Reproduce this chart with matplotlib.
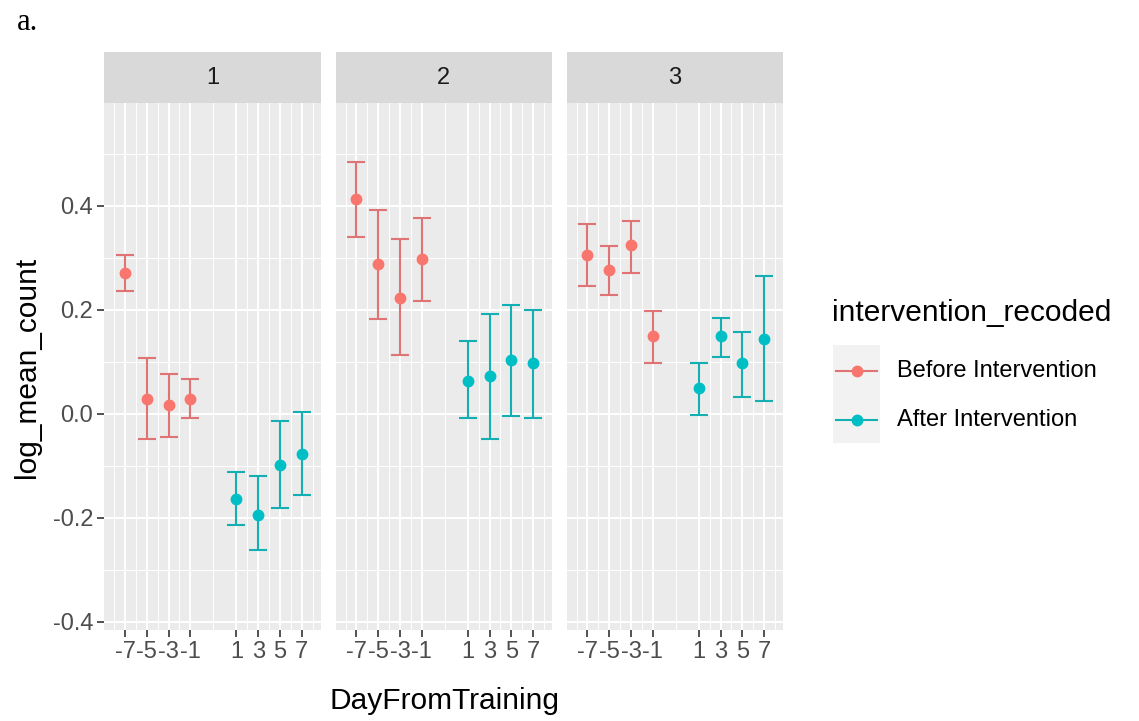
import matplotlib.pyplot as plt
from matplotlib.lines import Line2D
from matplotlib.patches import Rectangle

plt.rcParams['font.family'] = ['Liberation Sans', 'DejaVu Sans']

# data
days_before = [-7, -5, -3, -1]
days_after = [1, 3, 5, 7]
panels = ['1', '2', '3']

before_mean = [[0.271, 0.029, 0.016, 0.029],
               [0.414, 0.288, 0.222, 0.297],
               [0.306, 0.276, 0.324, 0.149]]
before_lo = [[0.236, -0.048, -0.045, -0.009],
             [0.340, 0.183, 0.114, 0.217],
             [0.245, 0.228, 0.271, 0.098]]
before_hi = [[0.305, 0.107, 0.077, 0.067],
             [0.484, 0.392, 0.336, 0.376],
             [0.366, 0.322, 0.370, 0.197]]

after_mean = [[-0.164, -0.194, -0.099, -0.078],
              [0.063, 0.072, 0.103, 0.098],
              [0.050, 0.149, 0.098, 0.144]]
after_lo = [[-0.214, -0.262, -0.181, -0.156],
            [-0.009, -0.048, -0.005, -0.009],
            [-0.002, 0.110, 0.032, 0.024]]
after_hi = [[-0.112, -0.120, -0.013, 0.004],
            [0.141, 0.192, 0.210, 0.200],
            [0.098, 0.184, 0.157, 0.266]]

groups = ['Before Intervention', 'After Intervention']
colors = ['#F8766D', '#00BFC4']
bar_colors = ['#E07474', '#13AFB2']

W, H = 1139, 721
fig = plt.figure(figsize=(W / 100, H / 100), dpi=100)


def fx(px):
    return px / W


def fy(py):
    return 1 - py / H


panel_left = [104.3, 335.7, 566.7]
panel_w = 216.4
top, bottom, strip_top = 103, 630, 52

gap = 2.24  # extra space between the before and after days
x_before = days_before
x_after = [d + gap for d in days_after]
xticks = x_before + x_after
xlabels = [str(d) for d in days_before + days_after]
xminor = [-8, -6, -4, -2, (x_before[-1] + x_after[0]) / 2] + [d + 1 for d in x_after]
yticks = [-0.4, -0.2, 0.0, 0.2, 0.4]
yminor = [-0.3, -0.1, 0.1, 0.3, 0.5]

for i, name in enumerate(panels):
    ax = fig.add_axes([fx(panel_left[i]), fy(bottom), panel_w / W, (bottom - top) / H])
    ax.set_facecolor('#EBEBEB')
    for s in ax.spines.values():
        s.set_visible(False)
    ax.set_xlim(-8.91, 10.99)
    ax.set_ylim(-0.416, 0.598)
    ax.set_xticks(xticks)
    ax.set_xticklabels(xlabels)
    ax.set_xticks(xminor, minor=True)
    ax.set_yticks(yticks)
    ax.set_yticklabels(['-0.4', '-0.2', '0.0', '0.2', '0.4'])
    ax.set_yticks(yminor, minor=True)
    ax.grid(which='major', color='white', lw=1.4)
    ax.grid(which='minor', color='white', lw=0.7)
    ax.set_axisbelow(True)
    ax.tick_params(which='major', length=5, width=1.2, color='#333333',
                   labelcolor='#4D4D4D', labelsize=17, pad=3)
    ax.tick_params(which='minor', length=0)
    if i > 0:
        ax.tick_params(axis='y', left=False, labelleft=False)

    for x, m, lo, hi, c, bc in [(x_before, before_mean[i], before_lo[i], before_hi[i], colors[0], bar_colors[0]),
                                (x_after, after_mean[i], after_lo[i], after_hi[i], colors[1], bar_colors[1])]:
        err = [[a - b for a, b in zip(m, lo)], [b - a for a, b in zip(m, hi)]]
        ax.errorbar(x, m, yerr=err, fmt='none', ecolor=bc, elinewidth=1.5,
                    capsize=6.5, capthick=1.5, zorder=3)
        ax.plot(x, m, 'o', color=c, ms=7.5, zorder=4)

    sax = fig.add_axes([fx(panel_left[i]), fy(top), panel_w / W, (top - strip_top) / H])
    sax.set_facecolor('#D9D9D9')
    sax.set_xticks([])
    sax.set_yticks([])
    for s in sax.spines.values():
        s.set_visible(False)
    sax.text(0.5, 0.5, name, ha='center', va='center', fontsize=17, color='#1A1A1A',
             transform=sax.transAxes)

fig.text(fx(27), fy(367), 'log_mean_count', rotation=90, ha='center', va='center', fontsize=21.5)
fig.text(fx(444), fy(701), 'DayFromTraining', ha='center', va='center', fontsize=21.5)
fig.text(fx(17), fy(22), 'a.', ha='left', va='center', fontsize=22, family='Liberation Serif')

# legend
fig.text(fx(832), fy(313), 'intervention_recoded', ha='left', va='center', fontsize=21.5)
key_y = [371, 420]
for k in range(2):
    y0 = 345 + k * 49
    fig.add_artist(Rectangle((fx(833), fy(y0 + 49)), 47 / W, 49 / H, transform=fig.transFigure,
                             facecolor='#F2F2F2', edgecolor='none'))
    fig.add_artist(Line2D([fx(836), fx(877)], [fy(key_y[k])] * 2, color=bar_colors[k], lw=1.5,
                          transform=fig.transFigure))
    fig.add_artist(Line2D([fx(856.5)], [fy(key_y[k])], marker='o', ms=7.5, color=colors[k],
                          transform=fig.transFigure))
    fig.text(fx(897), fy(key_y[k]), groups[k], ha='left', va='center', fontsize=17)

fig.savefig('out.png', dpi=100)
